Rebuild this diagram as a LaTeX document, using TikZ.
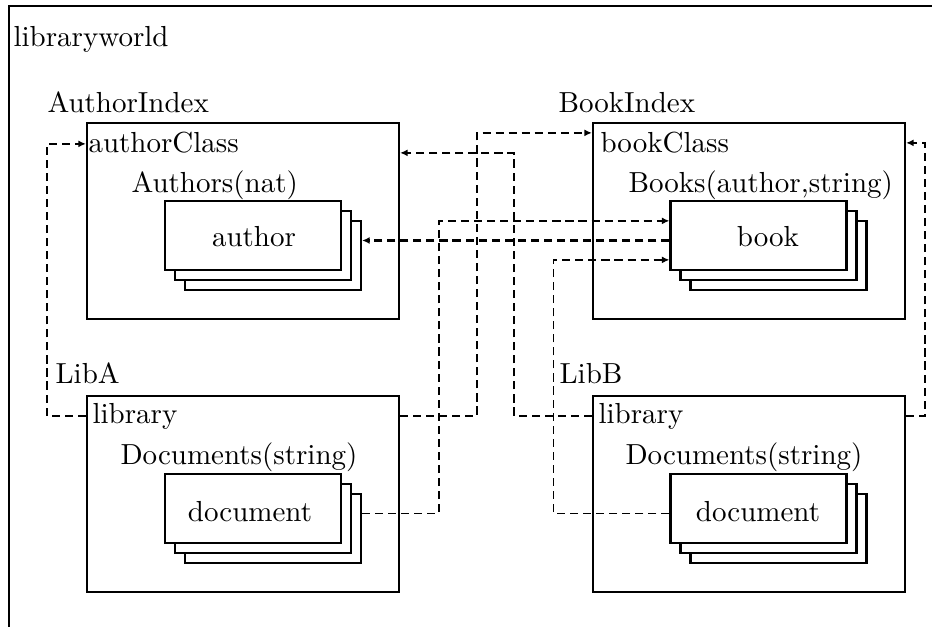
\documentclass[tikz,border=0pt]{standalone}
\usetikzlibrary{arrows.meta}

\begin{document}
\begin{tikzpicture}[
    x=0.3448pt, y=-0.3448pt,
    box/.style={draw, line width=0.75pt, minimum width=107.6pt,
                minimum height=67.6pt, inner sep=0pt},
    item/.style={draw, line width=0.75pt, fill=white, minimum width=60.7pt,
                 minimum height=23.8pt, inner sep=0pt},
    lbl/.style={anchor=base west, inner sep=0pt},
    arr/.style={line width=0.8pt, dash pattern=on 2.8pt off 1.7pt,
                -{Latex[length=2.6pt,width=2.4pt]}},
    thinarr/.style={arr, line width=0.5pt}
  ]
  \useasboundingbox (0,0) rectangle (932,627);

  % World frame
  \draw[line width=0.75pt] (9,627) -- (9,6) -- (932,6);
  \node[lbl] (world) at (13,47) {libraryworld};

  % Boxes
  \node[box] (aidx) at (243,221) {};
  \node[box] (bidx) at (749,221) {};
  \node[box] (liba) at (243,494) {};
  \node[box] (libb) at (749,494) {};

  % Stacks
  \node[item] (author3) at (273,255.5) {};
  \node[item] (author2) at (263,245.5) {};
  \node[item] (author)  at (253,235.5) {};
  \node[item] (book3)   at (778.5,255.5) {};
  \node[item] (book2)   at (768.5,245.5) {};
  \node[item] (book)    at (758.5,235.5) {};
  \node[item] (doca3)   at (273,528.5) {};
  \node[item] (doca2)   at (263,518.5) {};
  \node[item] (doca)    at (253,508.5) {};
  \node[item] (docb3)   at (778.5,528.5) {};
  \node[item] (docb2)   at (768.5,518.5) {};
  \node[item] (docb)    at (758.5,508.5) {};

  % Labels
  \node[lbl] (aidxname) at (47,113)  {AuthorIndex};
  \node[lbl] (acls)     at (88,153)  {authorClass};
  \node[lbl] (aset)     at (131,193) {Authors(nat)};
  \node[anchor=base, inner sep=0pt] (atxt) at (254,247) {author};
  \node[lbl] (bidxname) at (558,113) {BookIndex};
  \node[lbl] (bcls)     at (600,153) {bookClass};
  \node[lbl] (bset)     at (628,193) {Books(author,string)};
  \node[anchor=base, inner sep=0pt] (btxt) at (768,247) {book};
  \node[lbl] (libaname) at (55,384)  {LibA};
  \node[lbl] (libacls)  at (92,424)  {library};
  \node[lbl] (libaset)  at (120,465) {Documents(string)};
  \node[anchor=base, inner sep=0pt] (datxt) at (250,522) {document};
  \node[lbl] (libbname) at (559,384) {LibB};
  \node[lbl] (libbcls)  at (598,424) {library};
  \node[lbl] (libbset)  at (625,465) {Documents(string)};
  \node[anchor=base, inner sep=0pt] (dbtxt) at (758,522) {document};

  % Arrows
  \draw[arr] ([yshift=-21*0.3448pt]liba.north west) -- ++(-39,0)
    |- ([yshift=-22*0.3448pt]aidx.north west);
  \draw[arr] ([yshift=-21*0.3448pt]libb.north west) -- ++(-78,0)
    |- ([yshift=-31*0.3448pt]aidx.north east);
  \draw[arr] ([yshift=-21*0.3448pt]liba.north east) -- ++(77,0)
    |- ([yshift=-11*0.3448pt]bidx.north west);
  \draw[arr] ([yshift=-21*0.3448pt]libb.north east) -- ++(19,0)
    |- ([yshift=-21*0.3448pt]bidx.north east);
  \draw[arr] ([yshift=-5*0.3448pt]book.west) -- ([yshift=-5*0.3448pt]book.west -| author3.east);
  \draw[thinarr] ([yshift=-5*0.3448pt]doca.center -| doca3.east) -- ++(77,0)
    |- ([yshift=-21*0.3448pt]book.north west);
  \draw[thinarr] ([yshift=-5*0.3448pt]docb.west) -- ++(-116,0)
    |- ([yshift=-60*0.3448pt]book.north west);
\end{tikzpicture}
\end{document}
